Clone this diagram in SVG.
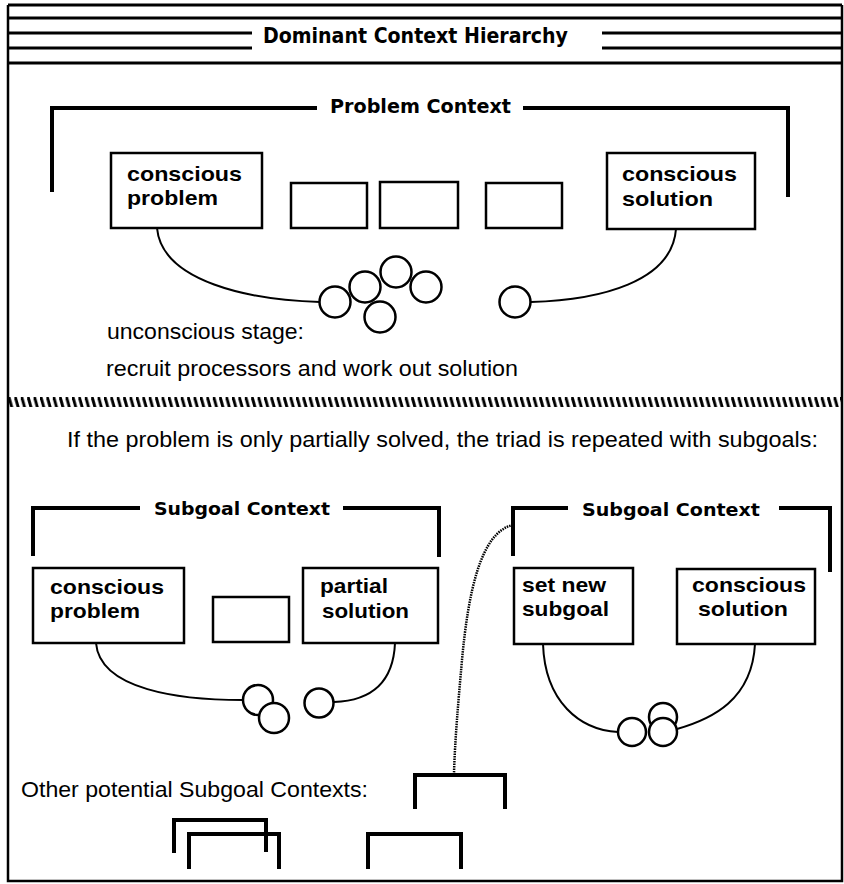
<svg xmlns="http://www.w3.org/2000/svg" width="844" height="884" viewBox="0 0 844 884">
  <defs>
    <style>
      .frame { fill: none; stroke: #000; stroke-width: 2.5; }
      .rule { fill: none; stroke: #000; stroke-width: 3; }
      .bracket { fill: none; stroke: #000; stroke-width: 4; stroke-linecap: square; }
      .box { fill: #fff; stroke: #000; stroke-width: 2.5; }
      .proc { fill: #fff; stroke: #000; stroke-width: 2.5; }
      .curve { fill: none; stroke: #000; stroke-width: 2; }
      .dotted { fill: none; stroke: #000; stroke-width: 2.5; stroke-dasharray: 1.5 1; }
      .title { font-family: "DejaVu Sans Condensed", "DejaVu Sans", sans-serif; font-weight: bold; fill: #000; }
      .label { font-family: "Liberation Sans", Arial, sans-serif; font-weight: bold; font-size: 21px; fill: #000; }
      .body { font-family: "Liberation Sans", Arial, sans-serif; font-size: 22px; fill: #000; }
    </style>
    <pattern id="hatch" patternUnits="userSpaceOnUse" x="8" y="397" width="6.4" height="10">
      <path d="M0.6,-1 L4,11" stroke="#000" stroke-width="2.9" fill="none"/>
    </pattern>
  </defs>

  <rect width="844" height="884" fill="#fff"/>

  <g id="frame">
    <path class="frame" d="M8,5 V881 H842 V5"/>
  </g>

  <g id="header">
    <path class="rule" d="M8,5 H842 M8,18 H842 M8,33 H252 M602,33 H842 M8,48 H252 M602,48 H842 M8,63 H842"/>
    <text class="title" x="263" y="43" font-size="21" textLength="305" lengthAdjust="spacingAndGlyphs">Dominant Context Hierarchy</text>
  </g>

  <g id="problem-context">
    <path class="bracket" d="M52,190 V108 H315 M525,108 H788 V195"/>
    <text class="title" x="330" y="113" font-size="20" textLength="181" lengthAdjust="spacingAndGlyphs">Problem Context</text>
  </g>

  <g id="conscious-problem-1">
    <rect class="box" x="111" y="153" width="151" height="75"/>
    <text class="label" x="127" y="181" textLength="115" lengthAdjust="spacingAndGlyphs">conscious</text>
    <text class="label" x="127" y="205" textLength="91" lengthAdjust="spacingAndGlyphs">problem</text>
  </g>
  <g id="step-box-1"><rect class="box" x="291" y="183" width="76" height="45"/></g>
  <g id="step-box-2"><rect class="box" x="380" y="182" width="78" height="46"/></g>
  <g id="step-box-3"><rect class="box" x="486" y="183" width="76" height="45"/></g>
  <g id="conscious-solution-1">
    <rect class="box" x="607" y="153" width="148" height="76"/>
    <text class="label" x="622" y="181" textLength="115" lengthAdjust="spacingAndGlyphs">conscious</text>
    <text class="label" x="622" y="206" textLength="91" lengthAdjust="spacingAndGlyphs">solution</text>
  </g>

  <g id="connectors">
    <path class="curve" d="M157,228 C162,282 250,300 320,302"/>
    <path class="curve" d="M676,229 C672,282 600,300 531,302"/>
    <path class="curve" d="M96,643 C100,690 180,700 243,700"/>
    <path class="curve" d="M395,643 C393,690 362,701 334,702"/>
    <path class="curve" d="M543,644 C545,702 580,730 618,732"/>
    <path class="curve" d="M755,644 C752,700 712,719 677,729"/>
    <path class="dotted" d="M513,525 C480,532 468,595 462,660 C458,705 455,740 454,773"/>
  </g>

  <g id="processors-1">
    <circle class="proc" cx="335" cy="302" r="15.5"/>
    <circle class="proc" cx="365" cy="287" r="15.5"/>
    <circle class="proc" cx="396" cy="272" r="15.5"/>
    <circle class="proc" cx="426" cy="287" r="15.5"/>
    <circle class="proc" cx="380" cy="317" r="15.5"/>
    <circle class="proc" cx="515" cy="302" r="15.5"/>
  </g>

  <g id="unconscious-stage">
    <text class="body" x="107" y="339" textLength="197" lengthAdjust="spacingAndGlyphs">unconscious stage:</text>
    <text class="body" x="106" y="376" textLength="412" lengthAdjust="spacingAndGlyphs">recruit processors and work out solution</text>
  </g>

  <g id="divider">
    <rect x="8" y="397" width="834" height="10" fill="url(#hatch)"/>
  </g>

  <g id="repeat-note">
    <text class="body" x="67" y="447" textLength="751" lengthAdjust="spacingAndGlyphs">If the problem is only partially solved, the triad is repeated with subgoals:</text>
  </g>

  <g id="subgoal-context-left">
    <path class="bracket" d="M33,554 V508 H138 M345,508 H439 V555"/>
    <text class="title" x="154" y="515" font-size="18" textLength="176" lengthAdjust="spacingAndGlyphs">Subgoal Context</text>
  </g>
  <g id="conscious-problem-2">
    <rect class="box" x="33" y="568" width="151" height="75"/>
    <text class="label" x="50" y="594" textLength="114" lengthAdjust="spacingAndGlyphs">conscious</text>
    <text class="label" x="50" y="618" textLength="90" lengthAdjust="spacingAndGlyphs">problem</text>
  </g>
  <g id="step-box-4"><rect class="box" x="213" y="597" width="76" height="45"/></g>
  <g id="partial-solution">
    <rect class="box" x="303" y="568" width="135" height="75"/>
    <text class="label" x="320" y="593" textLength="68" lengthAdjust="spacingAndGlyphs">partial</text>
    <text class="label" x="322" y="618" textLength="87" lengthAdjust="spacingAndGlyphs">solution</text>
  </g>
  <g id="processors-2">
    <circle class="proc" cx="258" cy="700" r="15"/>
    <circle class="proc" cx="274" cy="718" r="15"/>
    <circle class="proc" cx="319" cy="703" r="14.5"/>
  </g>

  <g id="subgoal-context-right">
    <path class="bracket" d="M513,554 V508 H566 M781,508 H830 V570"/>
    <text class="title" x="582" y="516" font-size="18" textLength="178" lengthAdjust="spacingAndGlyphs">Subgoal Context</text>
  </g>
  <g id="set-new-subgoal">
    <rect class="box" x="514" y="568" width="119" height="76"/>
    <text class="label" x="522" y="592" textLength="84" lengthAdjust="spacingAndGlyphs">set new</text>
    <text class="label" x="522" y="616" textLength="87" lengthAdjust="spacingAndGlyphs">subgoal</text>
  </g>
  <g id="conscious-solution-2">
    <rect class="box" x="677" y="569" width="138" height="75"/>
    <text class="label" x="692" y="592" textLength="114" lengthAdjust="spacingAndGlyphs">conscious</text>
    <text class="label" x="698" y="616" textLength="90" lengthAdjust="spacingAndGlyphs">solution</text>
  </g>
  <g id="processors-3">
    <circle class="proc" cx="663" cy="717" r="14"/>
    <circle class="proc" cx="632" cy="732" r="14"/>
    <circle class="proc" cx="663" cy="732" r="14"/>
  </g>

  <g id="other-contexts">
    <text class="body" x="21" y="797" textLength="347" lengthAdjust="spacingAndGlyphs">Other potential Subgoal Contexts:</text>
  </g>
  <g id="potential-context-1"><path class="bracket" d="M415,807 V775 H505 V807"/></g>
  <g id="potential-context-2"><path class="bracket" d="M174,851 V820 H266 V850"/></g>
  <g id="potential-context-3"><path class="bracket" d="M189,867 V834 H279 V867"/></g>
  <g id="potential-context-4"><path class="bracket" d="M368,867 V834 H461 V867"/></g>
</svg>
